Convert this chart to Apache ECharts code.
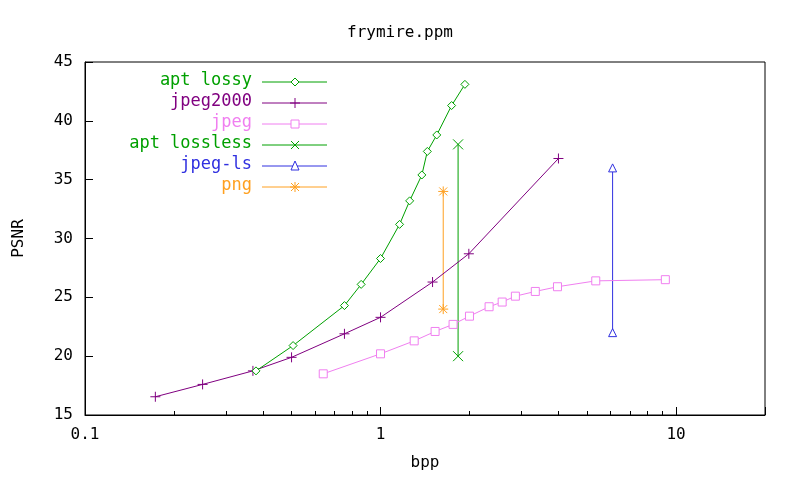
<!DOCTYPE html><html><head><meta charset="utf-8">
<script src="https://cdn.jsdelivr.net/npm/echarts@6/dist/echarts.min.js"></script>
<style>body{margin:0}#c{width:800px;height:480px}</style></head><body><div id="c"></div>
<script>
const seriesNames=['apt lossy','jpeg2000','jpeg','apt lossless','jpeg-ls','png'];
const aptLossy=[[0.379,18.75],[0.506,20.9],[0.755,24.3],[0.86,26.1],[1.0,28.3],[1.16,31.2],[1.255,33.2],[1.38,35.4],[1.44,37.4],[1.55,38.8],[1.74,41.3],[1.93,43.1]];
const jpeg2000=[[0.173,16.55],[0.25,17.6],[0.37,18.75],[0.5,19.9],[0.755,21.9],[1.0,23.3],[1.5,26.3],[1.99,28.7],[4.0,36.8]];
const jpeg=[[0.64,18.5],[1.0,20.2],[1.3,21.3],[1.53,22.1],[1.76,22.7],[2.0,23.4],[2.33,24.2],[2.58,24.6],[2.86,25.1],[3.34,25.5],[3.97,25.9],[5.35,26.4],[9.2,26.5]];
const aptLossless=[[1.83,20],[1.83,38]];
const jpegLs=[[6.1,22],[6.1,36]];
const png=[[1.63,24],[1.63,34]];
const colors=['#00a000','#800080','#f07ff0','#00a000','#3030e0','#ffa020'];
const plus='path://M5,0L5,10M0,5L10,5';
const cross='path://M0,0L10,10M10,0L0,10';
const star='path://M5,0L5,10M0,5L10,5M1,1L9,9M9,1L1,9';
const symbols=['diamond','plus','rect','x','triangle','star'];
const symMap={diamond:['diamond',true],plus:[plus,false],rect:['rect',true],x:[cross,false],triangle:['triangle',true],star:[star,false]};
const datas=[aptLossy,jpeg2000,jpeg,aptLossless,jpegLs,png];
const font='DejaVu Sans Mono';
const series=datas.map((d,i)=>{const [s,empty]=symMap[symbols[i]];return {
 name:seriesNames[i],type:'line',data:d,symbol:s,symbolSize:empty?8:10,showSymbol:true,
 lineStyle:{color:colors[i],width:1},
 itemStyle:{color:empty?'#fff':'none',borderColor:colors[i],borderWidth:1},animation:false,z:10-i};});
function markerShape(k,cx,cy){const r=4;
 if(k==='diamond')return {type:'polygon',shape:{points:[[cx,cy-r],[cx+r,cy],[cx,cy+r],[cx-r,cy]]}};
 if(k==='rect')return {type:'rect',shape:{x:cx-r,y:cy-r,width:2*r,height:2*r}};
 if(k==='triangle')return {type:'polygon',shape:{points:[[cx,cy-r-1],[cx+r,cy+r],[cx-r,cy+r]]}};
 let segs=[];
 if(k==='plus'||k==='star')segs.push([[cx-r-1,cy],[cx+r+1,cy]],[[cx,cy-r-1],[cx,cy+r+1]]);
 if(k==='x'||k==='star')segs.push([[cx-r,cy-r],[cx+r,cy+r]],[[cx+r,cy-r],[cx-r,cy+r]]);
 return {type:'group',children:segs.map(p=>({type:'polyline',shape:{points:p}}))};
}
const graphic=[];
seriesNames.forEach((n,i)=>{const y=82+i*21;
 graphic.push({type:'text',right:800-252,top:y-10,style:{text:n,fill:colors[i],font:'17px '+font,align:'right'}});
 graphic.push({type:'line',shape:{x1:262,y1:y,x2:327,y2:y},style:{stroke:colors[i],lineWidth:1}});
 const m=markerShape(symbols[i],295,y);
 const st={stroke:colors[i],fill:'#fff',lineWidth:1};
 if(m.children)m.children.forEach(c=>c.style=st);else m.style=st;
 graphic.push(m);
});
const chart=echarts.init(document.getElementById('c'));
const lab={fontFamily:font,fontSize:16,color:'#000'};
chart.setOption({backgroundColor:'#fff',
 title:{text:'frymire.ppm',left:'center',top:20,textStyle:{fontFamily:font,fontSize:16,fontWeight:'normal',color:'#000'}},
 grid:{left:85,right:35,top:62,bottom:65,show:true,borderColor:'#000',borderWidth:1},
 xAxis:{type:'log',min:0.1,max:20,logBase:10,name:'bpp',nameLocation:'middle',nameGap:40,
  nameTextStyle:lab,
  axisLine:{lineStyle:{color:'#000'}},axisTick:{inside:true,length:8,lineStyle:{color:'#000'}},
  minorTick:{show:true,splitNumber:9,length:4,lineStyle:{color:'#000'}},
  splitLine:{show:false},axisLabel:Object.assign({margin:12,formatter:v=>v>15?'':String(v)},lab)},
 yAxis:{type:'value',min:15,max:45,interval:5,name:'PSNR',nameLocation:'middle',nameGap:58,
  nameTextStyle:lab,
  axisLine:{show:true,lineStyle:{color:'#000'}},axisTick:{show:true,inside:true,length:8,lineStyle:{color:'#000'}},
  splitLine:{show:false},axisLabel:Object.assign({margin:12},lab)},
 graphic:graphic,
 series:series});
</script></body></html>
